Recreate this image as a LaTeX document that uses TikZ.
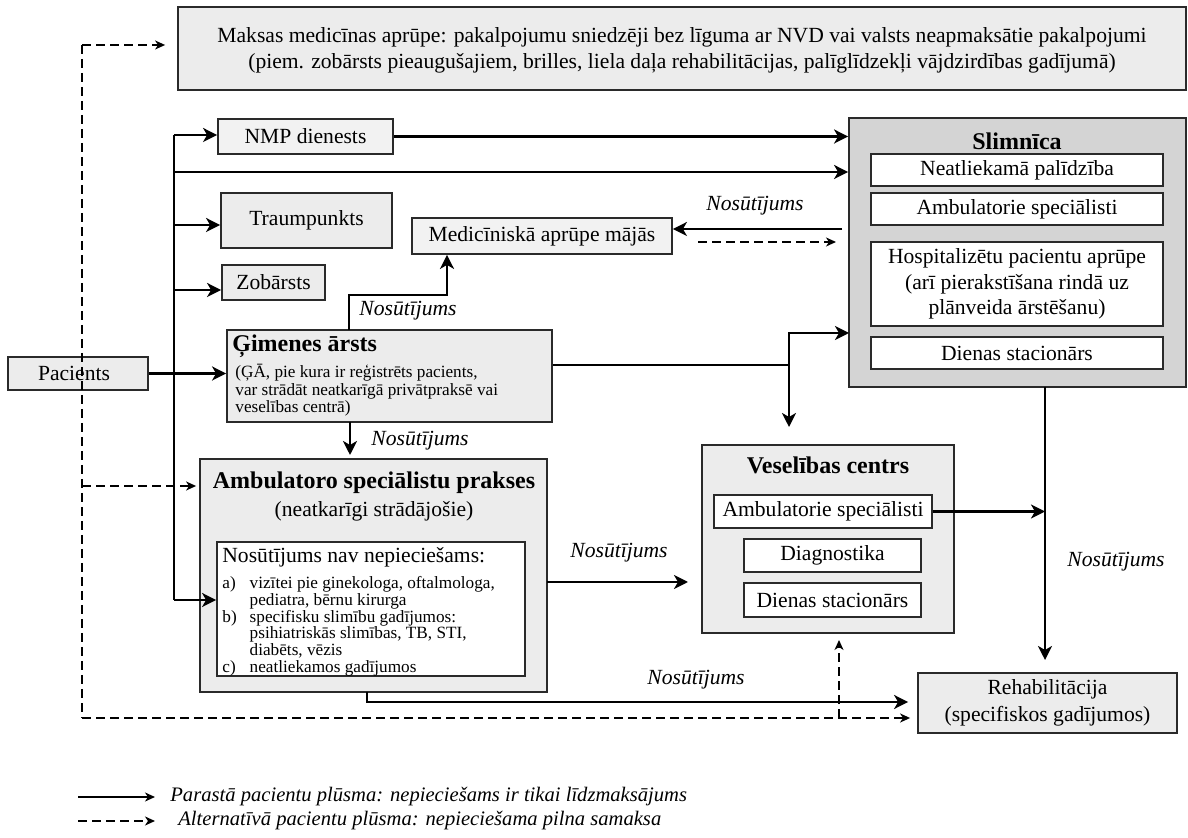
\documentclass[tikz,border=0pt]{standalone}
\usepackage{fontspec}
\setmainfont{Liberation Serif}
\usetikzlibrary{arrows.meta,fit}
\definecolor{boxgray}{HTML}{ECECEC}
\definecolor{lightgray2}{HTML}{F2F2F2}
\definecolor{slimgray}{HTML}{D4D4D4}
\definecolor{edgecol}{HTML}{2A2A2A}
\newcommand{\txtN}{\fontsize{10.8}{12.8}\selectfont}
\newcommand{\txtB}{\fontsize{12}{14}\selectfont\bfseries}
\newcommand{\txtS}{\fontsize{8.6}{7.8}\selectfont}
\newcommand{\txtL}{\fontsize{8.6}{8}\selectfont}
\newcommand{\txtI}{\fontsize{10.8}{12.8}\selectfont\itshape}
\newcommand{\txtLg}{\fontsize{10.3}{12}\selectfont\itshape}
\begin{document}
\begin{tikzpicture}[x=0.5pt,y=-0.5pt,
  box/.style={draw=edgecol, line width=0.9pt, fill=boxgray, inner sep=0pt},
  lbox/.style={box, fill=lightgray2},
  sbox/.style={box, fill=slimgray},
  ibox/.style={box, fill=white},
  plain/.style={inner sep=0pt},
  txt/.style={inner sep=0pt, font=\txtN, align=center},
  flowline/.style={line width=1.3pt},
  flow/.style={line width=1.3pt, -{Stealth[length=7pt,width=7pt,inset=2pt]}},
  altline/.style={line width=0.8pt, dash pattern=on 4.5pt off 2.5pt},
  alt/.style={altline, -{Stealth[length=5pt,width=4.5pt,inset=1.5pt]}},
  lgflow/.style={line width=0.9pt, -{Stealth[length=5pt,width=4.5pt,inset=1.5pt]}},
  lbl/.style={inner sep=0pt, font=\txtI},
]
\useasboundingbox (0,0) rectangle (1188,838);

% ---------- boxes ----------
\node[box, fit={(178,7)(1186,90)}] (top) {};
\node[txt] (topT) at ([yshift=-1pt]top.center) {Maksas medicīnas aprūpe: pakalpojumu sniedzēji bez līguma ar NVD vai valsts neapmaksātie pakalpojumi\\(piem. zobārsts pieaugušajiem, brilles, liela daļa rehabilitācijas, palīglīdzekļi vājdzirdības gadījumā)};

\node[lbox, fit={(218,119)(393,154)}] (nmp) {};
\node[txt] (nmpT) at (nmp.center) {NMP dienests};
\node[box, fit={(221,193)(392,248)}] (traum) {};
\node[txt] (traumT) at (traum.center) {Traumpunkts};
\node[box, fit={(222,265)(325,300)}] (zob) {};
\node[txt] (zobT) at (zob.center) {Zobārsts};
\node[lbox, fit={(412,218)(672,254)}] (med) {};
\node[txt] (medT) at (med.center) {Medicīniskā aprūpe mājās};
\node[box, fit={(8,357)(148,390)}] (pac) {};
\node[txt] (pacT) at ([xshift=-2pt]pac.center) {Pacients};

% Gimenes arsts
\node[box, fit={(227,330)(552,422)}] (gim) {};
\node[plain, anchor=west, font=\txtB] (gimt) at (232,346) {Ģimenes ārsts};
\node[plain, anchor=north west, font=\txtS, align=left] (gims) at (235,364) {(ĢĀ, pie kura ir reģistrēts pacients,\\var strādāt neatkarīgā privātpraksē vai\\veselības centrā)};

% Ambulatoro specialistu prakses
\node[box, fit={(200,459)(547,692)}] (amb) {};
\node[plain, font=\txtB] (ambt) at (374,483) {Ambulatoro speciālistu prakses};
\node[plain, font=\txtN] (ambs) at (374,511) {(neatkarīgi strādājošie)};
\node[ibox, fit={(217,542)(525,676)}] (inner) {};
\node[plain, anchor=west, font=\txtN] (innt) at (222,557) {Nosūtījums nav nepieciešams:};
\node[plain, anchor=north west, font=\txtL] (list) at (222,576) {%
\begin{tabular}{@{}l@{\hspace{6.5pt}}l@{}}
a) & vizītei pie ginekologa, oftalmologa,\\
   & pediatra, bērnu kirurga\\
b) & specifisku slimību gadījumos:\\
   & psihiatriskās slimības, TB, STI,\\
   & diabēts, vēzis\\
c) & neatliekamos gadījumos
\end{tabular}};

% Veselibas centrs
\node[box, fit={(702,445)(954,633)}] (ves) {};
\node[plain, font=\txtB] (vest) at (828,465) {Veselības centrs};
\node[ibox, fit={(714,495)(932,528)}] (ves1) {};
\node[txt] (ves1T) at (ves1.center) {Ambulatorie speciālisti};
\node[ibox, fit={(744,539)(921,572)}] (ves2) {};
\node[txt] (ves2T) at (ves2.center) {Diagnostika};
\node[ibox, fit={(744,583)(921,617)}] (ves3) {};
\node[txt] (ves3T) at (ves3.center) {Dienas stacionārs};

% Slimnica
\node[sbox, fit={(849,118)(1186,387)}] (slim) {};
\node[plain, font=\txtB] (slimt) at (1017,141) {Slimnīca};
\node[ibox, fit={(871,154)(1163,186)}] (sl1) {};
\node[txt] (sl1T) at (sl1.center) {Neatliekamā palīdzība};
\node[ibox, fit={(871,193)(1163,225)}] (sl2) {};
\node[txt] (sl2T) at (sl2.center) {Ambulatorie speciālisti};
\node[ibox, fit={(871,242)(1163,326)}] (sl3) {};
\node[txt] (sl3T) at (sl3.center) {Hospitalizētu pacientu aprūpe\\(arī pierakstīšana rindā uz\\plānveida ārstēšanu)};
\node[ibox, fit={(871,337)(1163,369)}] (sl4) {};
\node[txt] (sl4T) at (sl4.center) {Dienas stacionārs};

% Rehabilitacija
\node[box, fit={(918,673)(1177,733)}] (rehab) {};
\node[txt, font={\fontsize{10.8}{13.5}\selectfont}] (rehabT) at (rehab.center) {Rehabilitācija\\(specifiskos gadījumos)};

% ---------- coordinates ----------
\coordinate (tTop) at (174,135);
\coordinate (tSl) at (174,172);
\coordinate (tTr) at (174,225);
\coordinate (tZ) at (174,290);
\coordinate (tBot) at (174,600);
\coordinate (dTop) at (82,45);
\coordinate (dAmb) at (82,486);
\coordinate (dBot) at (82,718);
\coordinate (g1) at (349,330);
\coordinate (g2) at (349,295);
\coordinate (g3) at (447,295);
\coordinate (j) at (789,365);
\coordinate (sIn) at (849,333);
\coordinate (vIn) at (789,427);
\coordinate (ga) at (350,422);
\coordinate (gb) at (350,455);
\coordinate (a1) at (547,582);
\coordinate (a2) at (688,582);
\coordinate (r1) at (367,692);
\coordinate (r2) at (367,702);
\coordinate (s1) at (1045,387);
\coordinate (s2) at (1045,660);
\coordinate (m1) at (842,229);
\coordinate (m2) at (698,242);
\coordinate (m3) at (836,242);
\coordinate (v1) at (839,718);
\coordinate (v2) at (839,640);
\coordinate (L1a) at (78,797);
\coordinate (L1b) at (155,797);
\coordinate (L2a) at (78,821);
\coordinate (L2b) at (155,821);

% ---------- solid connectors ----------
\draw[flowline] (tBot) -- (tTop);
\draw[flow] (tTop) -- (tTop -| nmp.west);
\draw[flow] (tSl) -- (tSl -| slim.west);
\draw[flow] (tTr) -- (tTr -| traum.west);
\draw[flow] (tZ) -- (tZ -| zob.west);
\draw[flow] (tBot) -- (tBot -| inner.west);
\draw[flow] (nmp.east) -- (nmp.east -| slim.west);
\draw[flow] (pac.east) -- (pac.east -| gim.west);

\draw[flow] (g1) -- (g2) -- (g3) -- (g3 |- med.south);
\draw[flowline] (j -| gim.east) -- (j);
\draw[flow] (j) |- (sIn);
\draw[flow] (j) -- (vIn);
\draw[flow] (ga) -- (gb);
\draw[flow] (a1) -- (a2);
\draw[flow] (r1) -- (r2) -- ([xshift=-4.5pt]r2 -| rehab.west);
\draw[flow] (s1) -- (s2);
\draw[flow] (ves1.east) -- (ves1.east -| s1);
\draw[flow] (m1) -- (m1 -| med.east);

% ---------- dashed connectors ----------
\draw[altline] (dTop) -- (dBot);
\draw[alt] (dTop) -- ([xshift=-6pt]dTop -| top.west);
\draw[alt] (dAmb) -- ([xshift=-1.5pt]dAmb -| amb.west);
\draw[alt] (dBot) -- ([xshift=-3.5pt]dBot -| rehab.west);
\draw[alt] (m2) -- (m3);
\draw[alt] (v1) -- (v2);

% ---------- labels ----------
\node[lbl] (n1) at (408,311) {Nosūtījums};
\node[lbl] (n2) at (420,441) {Nosūtījums};
\node[lbl] (n3) at (619,553) {Nosūtījums};
\node[lbl] (n4) at (696,680) {Nosūtījums};
\node[lbl] (n5) at (1116,562) {Nosūtījums};
\node[lbl] (n6) at (755,206) {Nosūtījums};

% ---------- legend ----------
\draw[lgflow] (L1a) -- (L1b);
\draw[lgflow, dash pattern=on 4.5pt off 2.5pt] (L2a) -- (L2b);
\node[plain, font=\txtLg, anchor=west] (lg1) at (170,797) {Parastā pacientu plūsma: nepieciešams ir tikai līdzmaksājums};
\node[plain, font=\txtLg, anchor=west] (lg2) at (178,821) {Alternatīvā pacientu plūsma: nepieciešama pilna samaksa};
\end{tikzpicture}
\end{document}
